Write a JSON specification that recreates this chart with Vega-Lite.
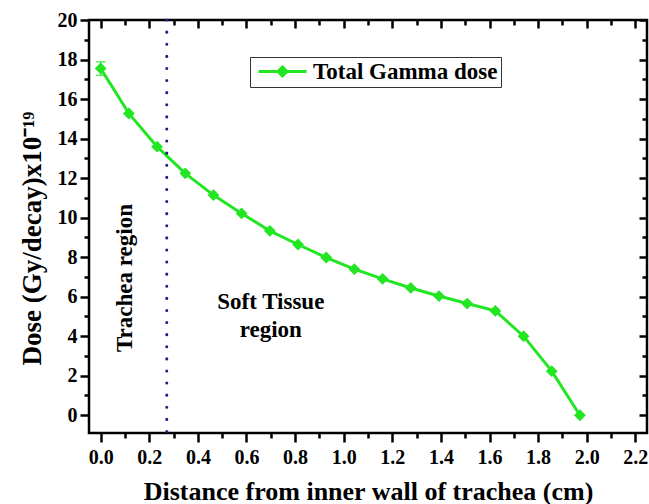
{
  "$schema": "https://vega.github.io/schema/vega-lite/v6.json",
  "autosize": "none",
  "width": 558,
  "height": 413,
  "padding": {"left": 89, "top": 20, "right": 2, "bottom": 71},
  "background": "white",
  "datasets": {
    "dose": [
      {"distance": 0.0, "dose": 17.55},
      {"distance": 0.116, "dose": 15.27},
      {"distance": 0.232, "dose": 13.59},
      {"distance": 0.348, "dose": 12.24},
      {"distance": 0.464, "dose": 11.14},
      {"distance": 0.58, "dose": 10.21},
      {"distance": 0.696, "dose": 9.33},
      {"distance": 0.812, "dose": 8.64},
      {"distance": 0.928, "dose": 7.98},
      {"distance": 1.044, "dose": 7.39},
      {"distance": 1.16, "dose": 6.9},
      {"distance": 1.276, "dose": 6.44},
      {"distance": 1.392, "dose": 6.03},
      {"distance": 1.508, "dose": 5.65},
      {"distance": 1.624, "dose": 5.28},
      {"distance": 1.74, "dose": 4.0},
      {"distance": 1.856, "dose": 2.23},
      {"distance": 1.972, "dose": 0.0}
    ],
    "err": [{"distance": 0.0, "low": 17.2, "high": 17.88}],
    "caps": [{"distance": 0.0, "dose": 17.2}, {"distance": 0.0, "dose": 17.88}],
    "boundary": [{"distance": 0.272}],
    "trachea": [{"distance": 0.1, "dose": 6.94, "label": "Trachea region"}],
    "soft": [{"distance": 0.7, "dose": 5.75, "label": "Soft Tissue\nregion"}]
  },
  "resolve": {"axis": {"x": "independent", "y": "independent"}},
  "layer": [
    {
      "data": {"name": "dose"},
      "mark": {"type": "line", "strokeWidth": 3},
      "encoding": {
        "x": {"field": "distance", "type": "quantitative",
          "scale": {"domain": [-0.048, 2.248], "nice": false, "zero": false},
          "axis": {"orient": "bottom", "values": [0, 0.2, 0.4, 0.6, 0.8, 1.0, 1.2, 1.4, 1.6, 1.8, 2.0, 2.2], "format": ".1f", "tickSize": 9, "labelPadding": 5,
            "title": "Distance from inner wall of trachea (cm)", "titleFontSize": 26, "titlePadding": 11}},
        "y": {"field": "dose", "type": "quantitative",
          "scale": {"domain": [-0.9, 20], "nice": false, "zero": false},
          "axis": {"orient": "left", "values": [0, 2, 4, 6, 8, 10, 12, 14, 16, 18, 20], "tickSize": 9, "labelPadding": 3,
            "title": "Dose (Gy/decay)x10⁻¹⁹", "titleFontSize": 27, "titlePadding": 11, "titleY": 218}},
        "color": {"datum": "Total Gamma dose", "type": "nominal", "scale": {"range": ["#22e622"]},
          "legend": {"orient": "none", "legendX": 161, "legendY": 37, "title": null,
            "symbolType": "M-1,0L7,0M3,-0.75L3.75,0L3,0.75L2.25,0Z", "symbolSize": 144, "symbolStrokeWidth": 3,
            "strokeColor": "#333", "padding": 3, "labelFont": "Liberation Serif", "labelFontWeight": "bold", "labelFontSize": 23, "labelColor": "black", "labelOffset": 37, "labelLimit": 400}}
      }
    },
    {
      "data": {"name": "dose"},
      "mark": {"type": "point", "shape": "diamond", "filled": true, "size": 140, "opacity": 1},
      "encoding": {
        "x": {"field": "distance", "type": "quantitative",
          "scale": {"domain": [-0.048, 2.248], "nice": false, "zero": false},
          "axis": {"orient": "bottom", "values": [0.1, 0.3, 0.5, 0.7, 0.9, 1.1, 1.3, 1.5, 1.7, 1.9, 2.1], "tickSize": 5, "labels": false, "title": null}},
        "y": {"field": "dose", "type": "quantitative",
          "scale": {"domain": [-0.9, 20], "nice": false, "zero": false},
          "axis": {"orient": "left", "values": [1, 3, 5, 7, 9, 11, 13, 15, 17, 19], "tickSize": 5, "labels": false, "title": null}},
        "color": {"datum": "Total Gamma dose", "type": "nominal"}
      }
    },
    {
      "data": {"name": "err"},
      "mark": {"type": "rule", "color": "#22e622", "strokeWidth": 1.5},
      "encoding": {
        "x": {"field": "distance", "type": "quantitative",
          "scale": {"domain": [-0.048, 2.248], "nice": false, "zero": false},
          "axis": {"orient": "top", "values": [0, 0.2, 0.4, 0.6, 0.8, 1.0, 1.2, 1.4, 1.6, 1.8, 2.0, 2.2], "tickSize": -8, "labels": false, "title": null}},
        "y": {"field": "low", "type": "quantitative",
          "scale": {"domain": [-0.9, 20], "nice": false, "zero": false},
          "axis": {"orient": "right", "values": [0, 2, 4, 6, 8, 10, 12, 14, 16, 18, 20], "tickSize": -8, "labels": false, "title": null}},
        "y2": {"field": "high"}
      }
    },
    {
      "data": {"name": "caps"},
      "mark": {"type": "tick", "orient": "horizontal", "color": "#22e622", "size": 10, "thickness": 1.5},
      "encoding": {
        "x": {"field": "distance", "type": "quantitative",
          "scale": {"domain": [-0.048, 2.248], "nice": false, "zero": false},
          "axis": {"orient": "top", "values": [0.1, 0.3, 0.5, 0.7, 0.9, 1.1, 1.3, 1.5, 1.7, 1.9, 2.1], "tickSize": -5, "labels": false, "title": null}},
        "y": {"field": "dose", "type": "quantitative",
          "scale": {"domain": [-0.9, 20], "nice": false, "zero": false},
          "axis": {"orient": "right", "values": [1, 3, 5, 7, 9, 11, 13, 15, 17, 19], "tickSize": -5, "labels": false, "title": null}}
      }
    },
    {
      "data": {"name": "boundary"},
      "mark": {"type": "rule", "color": "#1c1c8c", "strokeWidth": 3, "strokeDash": [0.1, 12], "strokeCap": "round"},
      "encoding": {
        "x": {"field": "distance", "type": "quantitative", "scale": {"domain": [-0.048, 2.248], "nice": false, "zero": false}, "axis": null}
      }
    },
    {
      "data": {"name": "trachea"},
      "mark": {"type": "text", "angle": 270, "font": "Liberation Serif", "fontWeight": "bold", "fontSize": 23, "color": "black", "align": "center", "baseline": "middle"},
      "encoding": {
        "x": {"field": "distance", "type": "quantitative", "scale": {"domain": [-0.048, 2.248], "nice": false, "zero": false}, "axis": null},
        "y": {"field": "dose", "type": "quantitative", "scale": {"domain": [-0.9, 20], "nice": false, "zero": false}, "axis": null},
        "text": {"field": "label"}
      }
    },
    {
      "data": {"name": "soft"},
      "mark": {"type": "text", "lineBreak": "\n", "lineHeight": 28, "font": "Liberation Serif", "fontWeight": "bold", "fontSize": 23, "color": "black", "align": "center", "baseline": "middle"},
      "encoding": {
        "x": {"field": "distance", "type": "quantitative", "scale": {"domain": [-0.048, 2.248], "nice": false, "zero": false}, "axis": null},
        "y": {"field": "dose", "type": "quantitative", "scale": {"domain": [-0.9, 20], "nice": false, "zero": false}, "axis": null},
        "text": {"field": "label"}
      }
    }
  ],
  "config": {
    "view": {"stroke": "black", "strokeWidth": 2.5},
    "axis": {"domain": false, "grid": false, "tickColor": "black", "tickWidth": 2.5,
      "labelFont": "Liberation Serif", "labelFontWeight": "bold", "labelFontSize": 20, "labelColor": "black",
      "titleFont": "Liberation Serif", "titleFontWeight": "bold", "titleColor": "black"}
  }
}
